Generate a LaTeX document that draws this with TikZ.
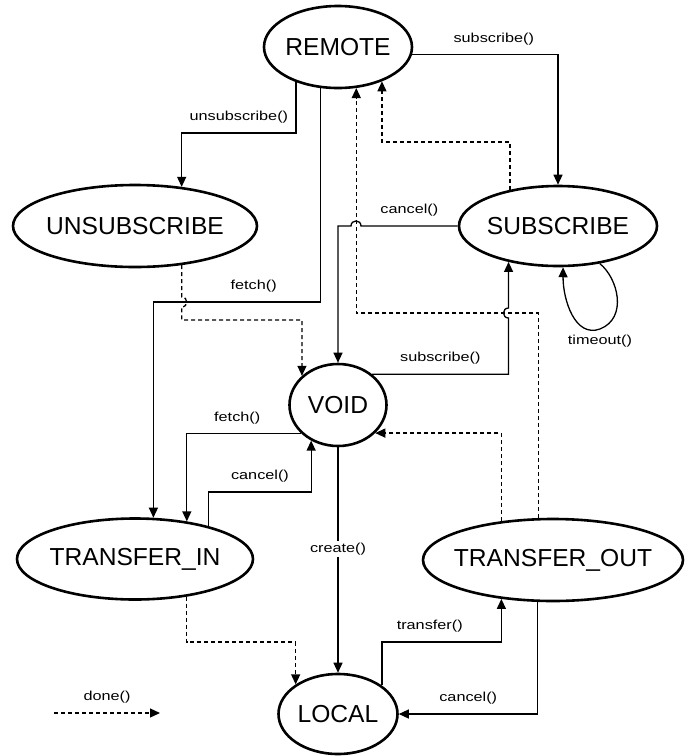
\documentclass[tikz,border=0pt]{standalone}
\usepackage{fontspec}
\setmainfont{Liberation Sans}
\newfontfamily\lblfont[FakeStretch=1.25]{Liberation Sans}
\usetikzlibrary{arrows.meta,shapes.geometric}

\begin{document}
\begin{tikzpicture}[x=1pt, y=-1pt,
	state/.style={ellipse, draw, line width=2.6pt, inner sep=0pt, font=\fontsize{24.6}{28}\selectfont},
	call/.style={line width=1.3pt, -{Triangle[length=10pt,width=9pt]}},
	done/.style={call, dash pattern=on 4pt off 3pt},
	lbl/.style={font=\lblfont\fontsize{13}{15}\selectfont, inner sep=2pt}]
	\useasboundingbox (0,0) rectangle (686,756);

	\node[state, minimum width=148pt, minimum height=82pt] (REMOTE) at (338,47) {\makebox[0pt]{REMOTE}};
	\node[state, minimum width=244pt, minimum height=82pt] (UNSUBSCRIBE) at (135,226) {\makebox[0pt]{UNSUBSCRIBE}};
	\node[state, minimum width=198pt, minimum height=80pt] (SUBSCRIBE) at (558,226) {\makebox[0pt]{SUBSCRIBE}};
	\node[state, minimum width=97pt, minimum height=82pt] (VOID) at (338,405) {\makebox[0pt]{VOID}};
	\node[state, minimum width=236pt, minimum height=81pt] (TRANSFER_IN) at (135,559) {\makebox[0pt]{TRANSFER\_IN}};
	\node[state, minimum width=260pt, minimum height=82pt] (TRANSFER_OUT) at (553,560) {\makebox[0pt]{TRANSFER\_OUT}};
	\node[state, minimum width=119pt, minimum height=80pt] (LOCAL) at (338,714) {\makebox[0pt]{LOCAL}};

	% from REMOTE
	\draw[call] (REMOTE.-6) -| node[lbl, above=7pt, pos=0.28] {subscribe()} (SUBSCRIBE);
	\draw[call] (REMOTE.220) |- node[lbl, above=7pt, pos=0.75] {unsubscribe()} (UNSUBSCRIBE.40 |- 0,133) -- (UNSUBSCRIBE.40);
	\draw[call] (REMOTE.247) |- node[lbl, above=7pt, pos=0.7] {fetch()} (TRANSFER_IN.66 |- 0,302) -- (TRANSFER_IN.66);

	% back to REMOTE
	\draw[done] (SUBSCRIBE.143) |- (REMOTE.-38 |- 0,142) -- (REMOTE.-38);
	\draw[done] (TRANSFER_OUT.109) |- (REMOTE.-66 |- 0,313) -- (REMOTE.-66);

	% SUBSCRIBE
	\draw[call] (SUBSCRIBE.west) -- node[lbl, above=7pt] {cancel()} (361,226) .. controls (361,219.3) and (351,219.3) .. (351,226) -| (VOID.north);
	\draw[call] (SUBSCRIBE.-42) .. controls (618,278) and (628,318) .. (600,329) node[lbl, below=3pt] {timeout()} .. controls (575,338) and (563,300) .. (SUBSCRIBE.-83);
	\draw[call] (VOID.42) -| node[lbl, above=7pt, pos=0.25] {subscribe()} (SUBSCRIBE.216 |- 0,318) .. controls +(-6.7,0) and +(-6.7,0) .. (SUBSCRIBE.216 |- 0,308) -- (SUBSCRIBE.216);
	\draw[done] (UNSUBSCRIBE.-40) -- (UNSUBSCRIBE.-40 |- 0,297) .. controls +(6.7,0) and +(6.7,0) .. (UNSUBSCRIBE.-40 |- 0,307) |- (VOID.141 |- 0,320) -- (VOID.141);

	% VOID
	\draw[call] (VOID.218) -| node[lbl, above=7pt, pos=0.28] {fetch()} (TRANSFER_IN.36);
	\draw[call] (TRANSFER_IN.24) |- node[lbl, above=7pt, pos=0.75] {cancel()} (VOID.233 |- 0,492) -- (VOID.233);
	\draw[done] (TRANSFER_OUT.143) |- (VOID.-37);
	\draw[call] (VOID.south) -- node[lbl, fill=white, pos=0.45] {create()} (LOCAL.north);

	% LOCAL
	\draw[done] (TRANSFER_IN.-36) |- (LOCAL.145 |- 0,642) -- (LOCAL.145);
	\draw[call] (LOCAL.33) |- node[lbl, above=7pt, pos=0.7] {transfer()} (TRANSFER_OUT.217 |- 0,642) -- (TRANSFER_OUT.217);
	\draw[call] (TRANSFER_OUT.250) |- node[lbl, above=7pt, pos=0.75] {cancel()} (LOCAL.east);

	% legend
	\coordinate (donefrom) at (54,713);
	\coordinate (doneto) at (160,713);
	\draw[done] (donefrom) -- node[lbl, above=7pt] {done()} (doneto);
\end{tikzpicture}
\end{document}
